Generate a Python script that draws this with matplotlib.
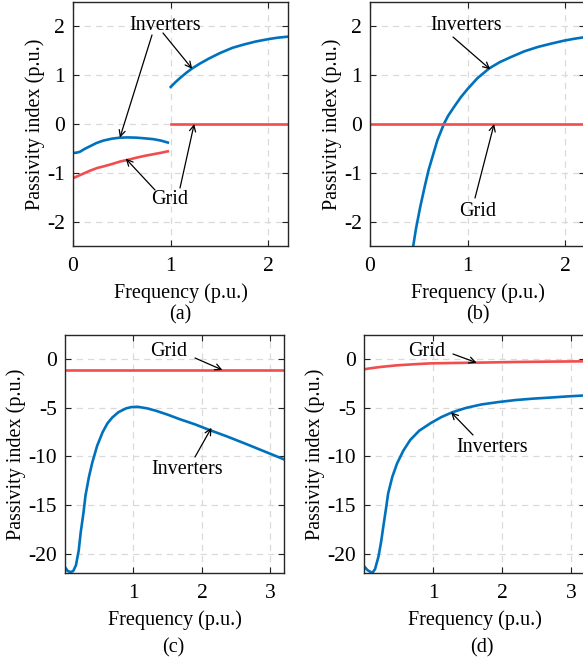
import matplotlib
matplotlib.use("Agg")
import matplotlib.pyplot as plt

plt.rcParams['font.family'] = ['Liberation Serif', 'DejaVu Serif']
plt.rcParams['axes.unicode_minus'] = False

# ---------------- data ----------------
# Panel (a)
a_inv1_x = [0.0, 0.03, 0.07, 0.12, 0.17, 0.24, 0.31, 0.40, 0.48, 0.56, 0.65, 0.74, 0.82, 0.90, 0.97]
a_inv1_y = [-0.59, -0.59, -0.57, -0.51, -0.46, -0.39, -0.34, -0.30, -0.28, -0.275, -0.28, -0.295, -0.31, -0.34, -0.38]
a_inv2_x = [1.0, 1.05, 1.10, 1.16, 1.22, 1.30, 1.39, 1.50, 1.63, 1.75, 1.87, 2.00, 2.10, 2.20]
a_inv2_y = [0.76, 0.86, 0.95, 1.05, 1.14, 1.24, 1.34, 1.45, 1.56, 1.63, 1.69, 1.74, 1.77, 1.79]
a_grid1_x = [0.0, 0.08, 0.17, 0.25, 0.31, 0.40, 0.48, 0.57, 0.65, 0.74, 0.82, 0.90, 0.97]
a_grid1_y = [-1.11, -1.04, -0.96, -0.90, -0.87, -0.82, -0.77, -0.73, -0.69, -0.65, -0.62, -0.59, -0.56]
a_grid2_x = [1.0, 2.2]
a_grid2_y = [0.0, 0.0]

# Panel (b)
b_inv_x = [0.44, 0.47, 0.515, 0.56, 0.60, 0.65, 0.69, 0.756, 0.80, 0.86, 0.93, 1.0, 1.10, 1.22,
           1.33, 1.44, 1.58, 1.72, 1.86, 1.99, 2.10, 2.20]
b_inv_y = [-2.53, -2.15, -1.69, -1.28, -0.94, -0.60, -0.33, 0.0, 0.17, 0.35, 0.55, 0.72, 0.94, 1.14,
           1.27, 1.37, 1.49, 1.58, 1.65, 1.71, 1.75, 1.78]
b_grid_x = [0.0, 2.2]
b_grid_y = [0.0, 0.0]

# Panel (c)
c_inv_x = [0.0, 0.04, 0.085, 0.12, 0.16, 0.20, 0.23, 0.27, 0.30, 0.35, 0.40, 0.47, 0.55, 0.62, 0.69,
           0.78, 0.89, 0.97, 1.06, 1.20, 1.33, 1.50, 1.67, 1.90, 2.10, 2.37, 2.64, 2.92, 3.20]
c_inv_y = [-21.4, -21.8, -21.9, -21.8, -21.2, -19.7, -17.8, -15.8, -14.0, -12.1, -10.6, -8.9, -7.5, -6.6, -6.0,
           -5.45, -5.06, -4.92, -4.89, -5.05, -5.3, -5.7, -6.15, -6.7, -7.25, -7.95, -8.7, -9.5, -10.3]
c_grid_x = [0.0, 3.2]
c_grid_y = [-1.1, -1.1]

# Panel (d)
d_inv_x = [0.0, 0.05, 0.12, 0.16, 0.21, 0.25, 0.28, 0.32, 0.35, 0.41, 0.48, 0.57, 0.67, 0.80, 0.97,
           1.12, 1.28, 1.48, 1.70, 1.95, 2.19, 2.45, 2.68, 2.95, 3.20]
d_inv_y = [-21.3, -21.7, -22.0, -21.6, -20.3, -18.7, -17.2, -15.3, -13.8, -12.1, -10.7, -9.4, -8.3, -7.35, -6.55,
           -5.95, -5.45, -5.0, -4.65, -4.4, -4.2, -4.05, -3.95, -3.82, -3.72]
d_grid_x = [0.0, 0.1, 0.25, 0.48, 0.75, 0.97, 1.3, 1.6, 2.19, 2.7, 3.2]
d_grid_y = [-1.03, -0.92, -0.78, -0.62, -0.50, -0.42, -0.38, -0.35, -0.28, -0.24, -0.21]

xlabel = "Frequency (p.u.)"
ylabel = "Passivity index (p.u.)"
panel_tags = ["(a)", "(b)", "(c)", "(d)"]

# ---------------- styling ----------------
BLUE = "#0072BD"
RED = "#F24D4D"
LW = 1.9
FS = 14.5
TFS = 15.5

W, H = 583, 659
fig = plt.figure(figsize=(W / 100, H / 100), dpi=100)


def add_ax(left, right, top, bottom):
    return fig.add_axes([left / W, 1 - bottom / H, (right - left) / W, (bottom - top) / H])


def style(ax, xlim, ylim, xticks, yticks):
    ax.set_xlim(*xlim)
    ax.set_ylim(*ylim)
    ax.set_xticks(xticks)
    ax.set_yticks(yticks)
    ax.tick_params(direction='in', top=True, right=True, labelsize=TFS, length=4,
                   width=0.8, colors='#222222', labelcolor='black')
    ax.tick_params(axis='x', pad=8)
    ax.tick_params(axis='y', pad=6)
    ax.grid(True, linestyle=(0, (5, 4)), color='#dadada', linewidth=0.9)
    ax.set_axisbelow(True)
    for s in ax.spines.values():
        s.set_linewidth(1.0)
        s.set_color('#262626')
    ax.set_xlabel(xlabel, fontsize=FS, labelpad=5)
    ax.set_ylabel(ylabel, fontsize=FS, labelpad=1.5)


ARROW = dict(arrowstyle='->', color='black', lw=0.9, shrinkA=0, shrinkB=0, mutation_scale=11)


def fpx(x, y):
    return (x, H - y)


def label(ax, text, x, y):
    ax.text(x, H - y, text, transform=None, fontsize=FS, ha='center', va='center')


def arrow(ax, xy, start):
    ax.annotate("", xy=xy, xytext=fpx(*start), textcoords='figure pixels', arrowprops=ARROW)


# Panel (a)
ax = add_ax(73, 288, 2, 246)
style(ax, (0, 2.2), (-2.5, 2.5), [0, 1, 2], [-2, -1, 0, 1, 2])
ax.plot(a_inv1_x, a_inv1_y, color=BLUE, lw=LW)
ax.plot(a_inv2_x, a_inv2_y, color=BLUE, lw=LW)
ax.plot(a_grid1_x, a_grid1_y, color=RED, lw=LW)
ax.plot(a_grid2_x, a_grid2_y, color=RED, lw=LW)
label(ax, "Inverters", 165, 26)
arrow(ax, (0.48, -0.28), (152, 35))
arrow(ax, (1.22, 1.13), (163, 33))
label(ax, "Grid", 170, 200)
arrow(ax, (0.54, -0.71), (155, 190))
arrow(ax, (1.24, 0.0), (180, 188))
fig.text(180 / W, 1 - 315 / H, panel_tags[0], fontsize=FS, ha='center', va='center')

# Panel (b)
ax = add_ax(370, 585, 2, 246)
style(ax, (0, 2.2), (-2.5, 2.5), [0, 1, 2], [-2, -1, 0, 1, 2])
ax.plot(b_inv_x, b_inv_y, color=BLUE, lw=LW)
ax.plot(b_grid_x, b_grid_y, color=RED, lw=LW)
label(ax, "Inverters", 466, 26)
arrow(ax, (1.23, 1.12), (453, 37))
label(ax, "Grid", 478, 212)
arrow(ax, (1.27, 0.0), (475, 198))
fig.text(478 / W, 1 - 315 / H, panel_tags[1], fontsize=FS, ha='center', va='center')

# Panel (c)
ax = add_ax(65, 284, 335, 573)
style(ax, (0, 3.2), (-22, 2.5), [1, 2, 3], [-20, -15, -10, -5, 0])
ax.plot(c_inv_x, c_inv_y, color=BLUE, lw=LW)
ax.plot(c_grid_x, c_grid_y, color=RED, lw=LW)
label(ax, "Grid", 169, 352)
arrow(ax, (2.3, -1.1), (195, 358))
label(ax, "Inverters", 187, 470)
arrow(ax, (2.14, -7.05), (195, 457))
fig.text(173 / W, 1 - 648 / H, panel_tags[2], fontsize=FS, ha='center', va='center')

# Panel (d)
ax = add_ax(364, 585, 335, 573)
style(ax, (0, 3.2), (-22, 2.5), [1, 2, 3], [-20, -15, -10, -5, 0])
ax.plot(d_inv_x, d_inv_y, color=BLUE, lw=LW)
ax.plot(d_grid_x, d_grid_y, color=RED, lw=LW)
label(ax, "Grid", 427, 351)
arrow(ax, (1.63, -0.35), (453, 354))
label(ax, "Inverters", 492, 447)
arrow(ax, (1.26, -5.45), (473, 435))
fig.text(482 / W, 1 - 648 / H, panel_tags[3], fontsize=FS, ha='center', va='center')

fig.savefig("out.png", dpi=100)
